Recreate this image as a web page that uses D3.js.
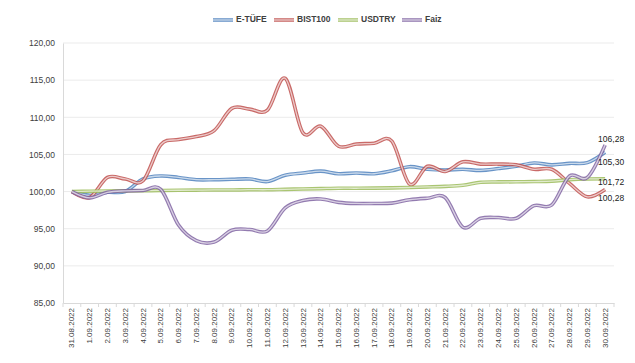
<!DOCTYPE html>
<html>
<head>
<meta charset="utf-8">
<script src="https://cdn.jsdelivr.net/npm/d3@7"></script>
<style>
  html, body { margin: 0; padding: 0; background: #fff; }
  svg { display: block; font-family: "Liberation Sans", Arial, sans-serif; }
</style>
</head>
<body>
<svg id="chart" width="635" height="363"></svg>
<script>
const dates = ["31.08.2022","1.09.2022","2.09.2022","3.09.2022","4.09.2022","5.09.2022","6.09.2022","7.09.2022","8.09.2022","9.09.2022","10.09.2022","11.09.2022","12.09.2022","13.09.2022","14.09.2022","15.09.2022","16.09.2022","17.09.2022","18.09.2022","19.09.2022","20.09.2022","21.09.2022","22.09.2022","23.09.2022","24.09.2022","25.09.2022","26.09.2022","27.09.2022","28.09.2022","29.09.2022","30.09.2022"];
const seriesNames = ["E-TÜFE", "BIST100", "USDTRY", "Faiz"];
const etufe = [100.00, 99.50, 99.90, 100.00, 101.70, 102.10, 101.90, 101.60, 101.60, 101.65, 101.70, 101.35, 102.20, 102.50, 102.75, 102.40, 102.50, 102.40, 102.80, 103.35, 103.00, 102.90, 103.00, 102.85, 103.10, 103.40, 103.85, 103.60, 103.80, 103.90, 105.30];
const bist100 = [100.00, 99.20, 101.90, 101.70, 101.45, 106.30, 107.00, 107.40, 108.20, 111.20, 111.10, 110.95, 115.25, 107.90, 108.80, 106.10, 106.40, 106.50, 106.80, 101.00, 103.40, 102.70, 104.00, 103.70, 103.70, 103.60, 103.00, 103.00, 101.10, 99.30, 100.28];
const usdtry = [100.00, 100.05, 100.08, 100.10, 100.12, 100.15, 100.18, 100.20, 100.22, 100.22, 100.25, 100.25, 100.30, 100.35, 100.40, 100.45, 100.45, 100.47, 100.50, 100.55, 100.62, 100.70, 100.85, 101.25, 101.30, 101.32, 101.35, 101.40, 101.60, 101.70, 101.72];
const faiz = [100.00, 99.15, 99.90, 100.10, 100.15, 100.30, 95.50, 93.40, 93.20, 94.80, 94.90, 94.70, 97.80, 98.80, 99.00, 98.55, 98.40, 98.40, 98.45, 98.90, 99.10, 99.20, 95.20, 96.40, 96.50, 96.40, 98.10, 98.20, 102.10, 101.90, 106.28];
const yTicks = [85, 90, 95, 100, 105, 110, 115, 120];

const colors = ["#4F81BD", "#C0504D", "#9BBB59", "#8064A2"];
const values = [etufe, bist100, usdtry, faiz];
const series = seriesNames.map((n, i) => ({ name: n, color: colors[i], values: values[i] }));

const svg = d3.select("#chart");
const mLeft = 63, mRight = 614, mTop = 43, mBottom = 303;

const x = d3.scaleBand().domain(dates).range([mLeft, mRight]).padding(0);
const y = d3.scaleLinear().domain([85, 120]).range([mBottom, mTop]);
const cx = d => x(d) + x.bandwidth() / 2;
const fmt = v => d3.format(".2f")(v).replace(".", ",");

// gridlines
svg.append("g").selectAll("line").data(yTicks.filter(t => t > 85)).join("line")
  .attr("x1", mLeft).attr("x2", mRight)
  .attr("y1", d => y(d)).attr("y2", d => y(d))
  .attr("stroke", "#ebebeb").attr("stroke-width", 1);

// y axis
const yAxis = svg.append("g").attr("transform", `translate(${mLeft},0)`)
  .call(d3.axisLeft(y).tickValues(yTicks).tickFormat(fmt).tickSize(0).tickPadding(8));
yAxis.select(".domain").attr("stroke", "#d9d9d9");
yAxis.selectAll("text").attr("font-size", "8.5px").attr("fill", "#404040");

// x axis
const xAxis = svg.append("g").attr("transform", `translate(0,${mBottom})`)
  .call(d3.axisBottom(x).tickSize(0).tickPadding(0));
xAxis.select(".domain").attr("stroke", "#d9d9d9");
xAxis.selectAll("text")
  .attr("font-size", "8px").attr("fill", "#404040")
  .attr("transform", "rotate(-90)")
  .attr("text-anchor", "end")
  .attr("dy", "0.32em")
  .attr("x", -5).attr("y", 0);
// tick marks between categories
svg.append("g").selectAll("line").data(d3.range(dates.length + 1)).join("line")
  .attr("x1", i => mLeft + i * x.step()).attr("x2", i => mLeft + i * x.step())
  .attr("y1", mBottom).attr("y2", mBottom + 4)
  .attr("stroke", "#d9d9d9");

// lines (double / compound style)
const line = d3.line()
  .x((d, i) => cx(dates[i]))
  .y(d => y(d))
  .curve(d3.curveCatmullRom.alpha(0));

const g = svg.append("g");
series.forEach(s => {
  g.append("path").datum(s.values).attr("d", line)
    .attr("fill", "none").attr("stroke", s.color).attr("stroke-width", 3.6)
    .attr("stroke-linejoin", "round").attr("stroke-opacity", 0.85);
  g.append("path").datum(s.values).attr("d", line)
    .attr("fill", "none").attr("stroke", "#fff").attr("stroke-width", 1.3)
    .attr("stroke-opacity", 0.65);
});

// end labels
const labelDy = { "E-TÜFE": 11, "BIST100": 9.5, "USDTRY": 4, "Faiz": -5 };
const lastDate = dates[dates.length - 1];
svg.append("g").selectAll("text").data(series).join("text")
  .attr("x", cx(lastDate) - 7)
  .attr("y", d => y(d.values[d.values.length - 1]) + labelDy[d.name])
  .attr("dominant-baseline", "middle")
  .attr("font-size", "8.5px").attr("fill", "#222")
  .text(d => fmt(d.values[d.values.length - 1]));

// legend
const legendX = [213, 274, 338, 402];
const lg = svg.append("g").selectAll("g").data(series).join("g")
  .attr("transform", (d, i) => `translate(${legendX[i]},20)`);
lg.append("line").attr("x1", 0).attr("x2", 20).attr("y1", 0).attr("y2", 0)
  .attr("stroke", d => d.color).attr("stroke-width", 3.6).attr("stroke-opacity", 0.85);
lg.append("line").attr("x1", 0).attr("x2", 20).attr("y1", 0).attr("y2", 0)
  .attr("stroke", "#fff").attr("stroke-width", 1.3).attr("stroke-opacity", 0.65);
lg.append("text").attr("x", 23).attr("y", 0).attr("dominant-baseline", "middle")
  .attr("font-size", "8.5px").attr("font-weight", "bold").attr("fill", "#404040")
  .text(d => d.name);
</script>
</body>
</html>
